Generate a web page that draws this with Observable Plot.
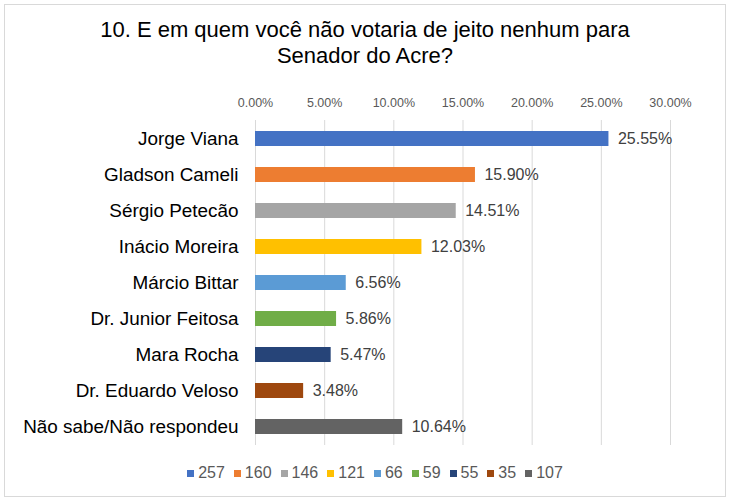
<!DOCTYPE html>
<html><head><meta charset="utf-8">
<script src="https://cdn.jsdelivr.net/npm/d3@7"></script>
<script src="https://cdn.jsdelivr.net/npm/@observablehq/plot@0.6"></script>
<style>
body{margin:0;background:#fff;font-family:"Liberation Sans",Arial,sans-serif;}
#wrap{position:relative;width:730px;height:502px;overflow:hidden;}
#frame{position:absolute;left:4px;top:4px;width:720px;height:491px;border:1px solid #d9d9d9;}
#title{position:absolute;left:0;top:17px;width:730px;text-align:center;font-size:22px;line-height:26px;color:#000;}
#chart{position:absolute;left:0;top:80px;}
#legend{position:absolute;left:10px;top:464px;width:730px;display:flex;justify-content:center;font-size:16px;line-height:18px;color:#595959;}
#legend .it{display:flex;align-items:center;margin:0 4.5px;}
#legend .sw{width:7px;height:7px;margin-right:4px;}
</style></head>
<body><div id="wrap"><div id="frame"></div>
<div id="title">10. E em quem você não votaria de jeito nenhum para<br>Senador do Acre?</div>
<div id="chart"></div><div id="legend"></div></div>
<script>
const categories = ["Jorge Viana","Gladson Cameli","Sérgio Petecão","Inácio Moreira","Márcio Bittar","Dr. Junior Feitosa","Mara Rocha","Dr. Eduardo Veloso","Não sabe/Não respondeu"];
const percents = [25.55,15.90,14.51,12.03,6.56,5.86,5.47,3.48,10.64];
const counts = [257,160,146,121,66,59,55,35,107];
const xTicks = [0,5,10,15,20,25,30];
const palette = ["#4472C4","#ED7D31","#A5A5A5","#FFC000","#5B9BD5","#70AD47","#264478","#9E480E","#636363"];

const data = categories.map((c,i)=>({cat:c, pct:percents[i], n:counts[i]}));
const fmt = d => d.toFixed(2) + "%";

const chart = Plot.plot({
  width: 730, height: 375,
  marginLeft: 255, marginRight: 60, marginTop: 40, marginBottom: 10,
  style: {fontFamily: '"Liberation Sans", Arial, sans-serif', background: "transparent"},
  x: {domain: [0,30], axis: null},
  y: {domain: categories, paddingInner: 0.58, paddingOuter: 0.29, axis: null},
  color: {domain: categories, range: palette},
  marks: [
    Plot.gridX(xTicks, {stroke: "#d9d9d9", strokeOpacity: 1}),
    Plot.axisX(xTicks, {anchor: "top", tickSize: 0, tickPadding: 14, tickFormat: fmt, fontSize: 12.5, fill: "#595959", label: null}),
    Plot.axisY({anchor: "left", tickSize: 0, tickPadding: 17, fontSize: 18.9, fill: "#000", label: null}),
    Plot.barX(data, {y: "cat", x: "pct", fill: "cat"}),
    Plot.text(data, {y: "cat", x: "pct", text: d => fmt(d.pct), textAnchor: "start", dx: 9, fontSize: 16, fill: "#404040"})
  ]
});
document.getElementById("chart").appendChild(chart);

const lg = document.getElementById("legend");
counts.forEach((n,i)=>{
  const it = document.createElement("div"); it.className="it";
  const sw = document.createElement("div"); sw.className="sw"; sw.style.background=palette[i];
  const t = document.createElement("span"); t.textContent = n;
  it.appendChild(sw); it.appendChild(t); lg.appendChild(it);
});
</script></body></html>
